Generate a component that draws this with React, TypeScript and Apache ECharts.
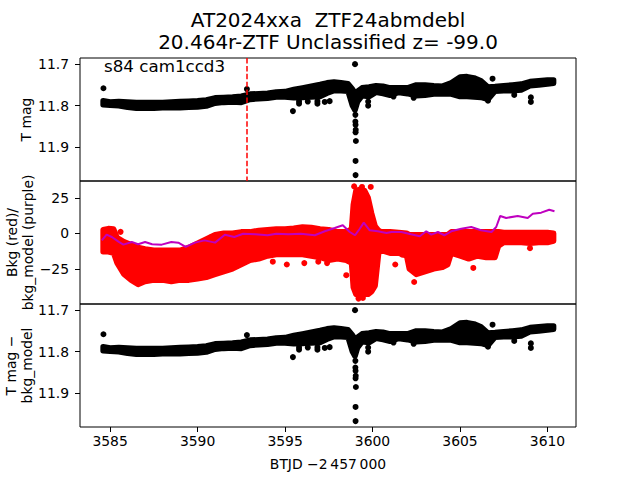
import React, { useEffect, useRef } from "react";
import * as echarts from "echarts";

// ---- texts ----
const titleLines = ["AT2024xxa  ZTF24abmdebl", "20.464r-ZTF Unclassified z= -99.0"];
const sectorLabel = "s84 cam1ccd3";
const xLabel = "BTJD \u22122\u2009457\u2009000";
const yLabels = ["T mag", "Bkg (red)/\nbkg_model (purple)", "T mag \u2212\nbkg_model"];

// ---- ticks ----
const xTicks = [3585, 3590, 3595, 3600, 3605, 3610];
const magTicks = [11.7, 11.8, 11.9];
const bkgTicks = [-25, 0, 25];

// ---- event marker ----
const eventT = 3592.82;

// ---- T mag band (dense photometry: upper / lower envelope of the dots) ----
const magT = [3584.6, 3585.0, 3585.5, 3586.0, 3586.5, 3587.0, 3587.5, 3588.0, 3588.5, 3589.0, 3589.5, 3590.0, 3590.5, 3591.0, 3591.5, 3592.0, 3592.5, 3593.0, 3593.5, 3594.0, 3594.5, 3595.0, 3595.5, 3596.0, 3596.5, 3597.0, 3597.4, 3597.8, 3598.2, 3598.6, 3598.85, 3599.0, 3599.15, 3599.4, 3599.8, 3600.2, 3600.6, 3601.0, 3601.5, 3602.0, 3602.5, 3603.0, 3603.5, 3604.0, 3604.5, 3605.0, 3605.4, 3605.8, 3606.2, 3606.6, 3607.0, 3607.5, 3608.0, 3608.5, 3609.0, 3609.5, 3610.0, 3610.35];
const magHi = [11.788, 11.791, 11.790, 11.791, 11.792, 11.792, 11.792, 11.792, 11.791, 11.790, 11.789, 11.788, 11.786, 11.781, 11.780, 11.779, 11.777, 11.772, 11.771, 11.770, 11.767, 11.766, 11.761, 11.757, 11.753, 11.749, 11.745, 11.743, 11.745, 11.747, 11.760, 11.770, 11.765, 11.757, 11.755, 11.752, 11.753, 11.757, 11.757, 11.757, 11.750, 11.750, 11.752, 11.753, 11.745, 11.731, 11.730, 11.733, 11.740, 11.755, 11.754, 11.752, 11.750, 11.748, 11.742, 11.740, 11.738, 11.738];
const magLo = [11.798, 11.799, 11.800, 11.804, 11.806, 11.806, 11.806, 11.805, 11.805, 11.805, 11.804, 11.803, 11.801, 11.794, 11.792, 11.791, 11.792, 11.785, 11.783, 11.782, 11.779, 11.779, 11.781, 11.780, 11.779, 11.778, 11.770, 11.764, 11.764, 11.765, 11.800, 11.811, 11.790, 11.776, 11.778, 11.768, 11.771, 11.775, 11.768, 11.771, 11.776, 11.775, 11.772, 11.771, 11.772, 11.778, 11.778, 11.779, 11.780, 11.785, 11.765, 11.764, 11.764, 11.762, 11.752, 11.750, 11.748, 11.746];
// isolated T mag points (outliers and short spikes)
const magDotT = [3584.62, 3592.82, 3595.45, 3595.8, 3595.8, 3596.3, 3596.85, 3596.85, 3597.27, 3597.55, 3599.0, 3599.02, 3599.02, 3599.03, 3599.04, 3599.03, 3599.05, 3599.03, 3599.03, 3599.75, 3599.75, 3601.2, 3602.35, 3606.6, 3606.86, 3608.1, 3609.05, 3609.05];
const magDotV = [11.758, 11.760, 11.813, 11.789, 11.795, 11.790, 11.789, 11.795, 11.791, 11.789, 11.700, 11.822, 11.838, 11.846, 11.858, 11.864, 11.885, 11.933, 11.967, 11.790, 11.800, 11.778, 11.781, 11.788, 11.735, 11.774, 11.780, 11.791];

// ---- background (red) band ----
const bkgT = [3584.6, 3584.9, 3585.2, 3585.4, 3585.8, 3586.2, 3586.6, 3587.0, 3587.5, 3588.0, 3588.5, 3589.0, 3589.5, 3590.0, 3590.5, 3591.0, 3591.5, 3592.0, 3592.5, 3593.0, 3593.5, 3594.0, 3594.5, 3595.0, 3595.5, 3596.0, 3596.5, 3597.0, 3597.5, 3598.0, 3598.5, 3598.8, 3598.9, 3599.05, 3599.3, 3599.55, 3599.75, 3599.95, 3600.15, 3600.35, 3600.5, 3601.0, 3601.5, 3601.95, 3602.1, 3602.5, 3603.0, 3603.5, 3604.0, 3604.3, 3604.5, 3605.0, 3605.5, 3606.0, 3606.5, 3607.0, 3607.2, 3607.5, 3608.0, 3608.5, 3609.0, 3609.5, 3610.0, 3610.35];
const bkgHi = [2.5, 3.3, 3, -3, -6, -8, -10, -11, -12, -12, -12, -12, -10, -7, -4, -1, 0, 0, 1, 1, 2, 2.5, 3, 3, 3.5, 4.5, 4, 3, 2.5, 1, 1, 3, 20, 30, 31, 30, 25, 14, 5, 2, 1, 1, 0.5, 0, -1, -1, -1, -1, -1, -1, 1, 1, 1, 1, 1, 1, 1, 0.5, 0.5, 0.5, 0.5, 0.5, 0.5, 0];
const bkgLo = [-13, -13, -14, -21, -29, -33, -36, -34, -33, -33, -34, -33, -33, -32, -31, -29, -27, -25, -22, -19, -18, -16, -15, -15, -15, -15, -16, -17, -19, -18, -19, -21, -38, -43, -44, -43, -43, -41, -37, -14, -12, -14, -14, -16, -25, -29, -27, -25, -24, -22, -14, -16, -18, -16, -17, -17, -9, -6.5, -6.5, -6.5, -7, -6.5, -6.5, -5.5];
const bkgDotT = [3585.6, 3590.8, 3592.25, 3594.3, 3595.1, 3596.1, 3596.9, 3597.4, 3598.5, 3598.95, 3599.4, 3599.9, 3599.2, 3599.45, 3601.3, 3601.7, 3602.38, 3605.76, 3609.0];
const bkgDotV = [1, -2.6, -23, -20, -22, -21, -20, -21, -29.5, 33, 32.6, 32.6, -46, -45.5, -22, -15, -34.3, -24.4, -10.5];

// ---- background model (purple) ----
const modelT = [3584.53, 3584.8, 3585.1, 3585.5, 3585.76, 3586.24, 3586.6, 3587.0, 3587.4, 3587.95, 3588.5, 3588.9, 3589.32, 3589.85, 3590.4, 3591.0, 3591.56, 3592.1, 3592.6, 3593.3, 3594.0, 3594.5, 3595.2, 3595.9, 3596.7, 3597.27, 3597.84, 3598.3, 3598.7, 3599.0, 3599.27, 3599.5, 3599.84, 3600.3, 3600.8, 3601.08, 3601.65, 3602.2, 3602.7, 3603.07, 3603.36, 3603.74, 3604.1, 3604.5, 3605.07, 3605.64, 3606.2, 3606.8, 3607.07, 3607.3, 3607.64, 3608.3, 3608.87, 3609.16, 3609.64, 3610.1, 3610.4];
const modelV = [-5, -1, -2.6, -6.1, -8, -6.1, -7.7, -6.1, -7.7, -8, -6.1, -6.6, -9.6, -6.6, -5, -6.6, -1, -2.6, -0.3, -0.7, -1.4, -0.3, -0.7, -0.3, -1.4, 1.4, 3.7, 5.6, 0.9, -1.4, 3.2, 7.5, 2.1, 1.4, 0.2, 0.9, 0.9, -0.7, -2.1, 1.4, -1, 0.9, -1.4, 1.4, 3.2, 4.4, 2.1, 0.9, 4.4, 12.2, 10.8, 12.2, 10.8, 13.8, 14.5, 16.6, 15.5];

// ---- axis limits ----
const X_MIN = 3583.28;
const X_MAX = 3611.63;
const MAG_MIN = 11.6852;
const MAG_MAX = 11.9812;
const BKG_MIN = -49.8;
const BKG_MAX = 36.8;

const FONT = "DejaVu Sans";
const TICK_FS = 13.9;
const GRID_TOPS = [58, 181, 304];
const GRID_H = 123;

function bandSeries(idx: number, T: number[], Hi: number[], Lo: number[], color: string) {
  return {
    type: "custom",
    xAxisIndex: idx,
    yAxisIndex: idx,
    silent: true,
    clip: true,
    z: 3,
    data: [[T[0], Hi[0]]],
    renderItem: (_params: any, api: any) => {
      const pts: number[][] = [];
      for (let i = 0; i < T.length; i++) pts.push(api.coord([T[i], Hi[i]]));
      for (let i = T.length - 1; i >= 0; i--) pts.push(api.coord([T[i], Lo[i]]));
      return {
        type: "polygon",
        shape: { points: pts },
        style: { fill: color, stroke: color, lineWidth: 5.5, lineJoin: "round" },
      };
    },
  };
}

function dotSeries(idx: number, T: number[], V: number[], color: string) {
  return {
    type: "scatter",
    xAxisIndex: idx,
    yAxisIndex: idx,
    silent: true,
    z: 4,
    symbol: "circle",
    symbolSize: 6,
    itemStyle: { color, opacity: 1 },
    data: T.map((t, i) => [t, V[i]]),
  };
}

export default function App() {
  const ref = useRef<HTMLDivElement>(null);

  useEffect(() => {
    if (!ref.current) return;
    const chart = echarts.init(ref.current, undefined, { renderer: "svg" });

    const tickText = { color: "#000", fontSize: TICK_FS, fontFamily: FONT };

    const xAxis = [0, 1, 2].map((i) => ({
      type: "value",
      gridIndex: i,
      min: X_MIN,
      max: X_MAX,
      axisLine: { show: false },
      splitLine: { show: false },
      axisTick: {
        show: i === 2,
        customValues: xTicks,
        length: 5,
        lineStyle: { color: "#000", width: 1 },
      },
      axisLabel: {
        show: i === 2,
        customValues: xTicks,
        margin: 7,
        formatter: (v: number) => String(v),
        ...tickText,
      },
      name: i === 2 ? xLabel : "",
      nameLocation: "middle",
      nameGap: 30,
      nameTextStyle: { color: "#000", fontSize: TICK_FS, fontFamily: FONT },
    }));

    const magAxis = (i: number) => ({
      type: "value",
      gridIndex: i,
      min: MAG_MIN,
      max: MAG_MAX,
      inverse: true,
      axisLine: { show: false },
      splitLine: { show: false },
      axisTick: { show: true, customValues: magTicks, length: 5, lineStyle: { color: "#000", width: 1 } },
      axisLabel: {
        customValues: magTicks,
        margin: 11,
        formatter: (v: number) => v.toFixed(1),
        ...tickText,
      },
    });

    const bkgAxis = {
      type: "value",
      gridIndex: 1,
      min: BKG_MIN,
      max: BKG_MAX,
      axisLine: { show: false },
      splitLine: { show: false },
      axisTick: { show: true, customValues: bkgTicks, length: 5, lineStyle: { color: "#000", width: 1 } },
      axisLabel: {
        customValues: bkgTicks,
        margin: 11,
        formatter: (v: number) => (v < 0 ? "\u2212" + Math.abs(v) : String(v)),
        ...tickText,
      },
    };

    const grid = GRID_TOPS.map((t) => ({
      left: 80,
      right: 64,
      top: t,
      height: GRID_H,
      show: true,
      borderColor: "#000",
      borderWidth: 1,
      backgroundColor: "transparent",
      containLabel: false,
    }));

    const yNameX = [26, 20, 19];
    const option: any = {
      animation: false,
      backgroundColor: "#fff",
      textStyle: { fontFamily: FONT },
      title: [
        {
          text: titleLines[0],
          left: 328,
          top: 10,
          padding: 0,
          textAlign: "center",
          textStyle: { fontSize: 20, fontWeight: "normal", color: "#000", fontFamily: FONT },
        },
        {
          text: titleLines[1],
          left: 328,
          top: 32,
          padding: 0,
          textAlign: "center",
          textStyle: { fontSize: 20, fontWeight: "normal", color: "#000", fontFamily: FONT },
        },
      ],
      grid,
      xAxis,
      yAxis: [magAxis(0), bkgAxis, magAxis(2)],
      graphic: [
        {
          type: "text",
          x: 104,
          y: 65.5,
          z: 10,
          style: {
            text: sectorLabel,
            fontSize: 16.7,
            fontFamily: FONT,
            fill: "#000",
            textAlign: "left",
            textVerticalAlign: "middle",
          },
        },
        ...yLabels.map((lab, i) => ({
          type: "text",
          x: yNameX[i],
          y: GRID_TOPS[i] + GRID_H / 2,
          rotation: Math.PI / 2,
          style: {
            text: lab,
            fontSize: TICK_FS,
            fontFamily: FONT,
            fill: "#000",
            lineHeight: 15.5,
            textAlign: "center",
            textVerticalAlign: "middle",
          },
        })),
      ],
      series: [
        {
          type: "line",
          xAxisIndex: 0,
          yAxisIndex: 0,
          data: [],
          z: 1,
          silent: true,
          markLine: {
            silent: true,
            symbol: "none",
            label: { show: false },
            lineStyle: { color: "#ff0000", width: 1.5, type: [5.5, 2.4] },
            data: [{ xAxis: eventT }],
          },
        },
        bandSeries(0, magT, magHi, magLo, "#000"),
        dotSeries(0, magDotT, magDotV, "#000"),
        bandSeries(1, bkgT, bkgHi, bkgLo, "#ff0000"),
        dotSeries(1, bkgDotT, bkgDotV, "#ff0000"),
        {
          type: "line",
          xAxisIndex: 1,
          yAxisIndex: 1,
          z: 5,
          silent: true,
          showSymbol: false,
          lineStyle: { color: "#bf00bf", width: 2 },
          data: modelT.map((t, i) => [t, modelV[i]]),
        },
        bandSeries(2, magT, magHi, magLo, "#000"),
        dotSeries(2, magDotT, magDotV, "#000"),
      ],
    };

    chart.setOption(option);
    return () => chart.dispose();
  }, []);

  return <div ref={ref} style={{ width: 640, height: 480, position: "absolute", left: 0, top: 0 }} />;
}
